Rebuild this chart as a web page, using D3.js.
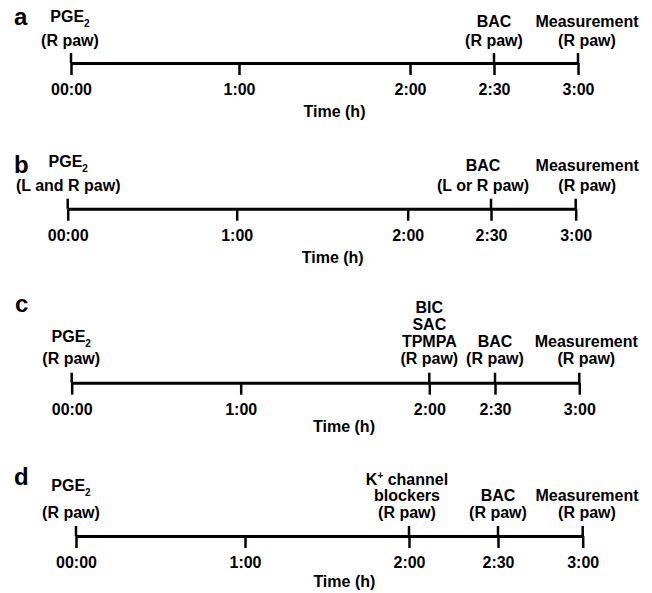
<!DOCTYPE html>
<html>
<head>
<meta charset="utf-8">
<script src="https://cdn.jsdelivr.net/npm/d3@7"></script>
<style>
  body { margin: 0; background: #fff; }
  text { font-family: "Liberation Sans", Arial, Helvetica, sans-serif; font-weight: bold; fill: #000; }
</style>
</head>
<body>
<div id="chart"></div>
<script>
var panelIds = ["a", "b", "c", "d"];
var tickTimes = [0, 1, 2, 2.5, 3];
var tickLabels = ["00:00", "1:00", "2:00", "2:30", "3:00"];
var axisTitle = "Time (h)";

// "_" marks a subscript, "^" a superscript
var eventsA = [
  { time: 0, lines: ["PGE_2", "(R paw)"] },
  { time: 2.5, lines: ["BAC", "(R paw)"] },
  { time: 3, lines: ["Measurement", "(R paw)"] }
];
var eventsB = [
  { time: 0, lines: ["PGE_2", "(L and R paw)"] },
  { time: 2.5, lines: ["BAC", "(L or R paw)"] },
  { time: 3, lines: ["Measurement", "(R paw)"] }
];
var eventsC = [
  { time: 0, lines: ["PGE_2", "(R paw)"] },
  { time: 2, lines: ["BIC", "SAC", "TPMPA", "(R paw)"] },
  { time: 2.5, lines: ["BAC", "(R paw)"] },
  { time: 3, lines: ["Measurement", "(R paw)"] }
];
var eventsD = [
  { time: 0, lines: ["PGE_2", "(R paw)"] },
  { time: 2, lines: ["K^+ channel", "blockers", "(R paw)"] },
  { time: 2.5, lines: ["BAC", "(R paw)"] },
  { time: 3, lines: ["Measurement", "(R paw)"] }
];
var panelEvents = { a: eventsA, b: eventsB, c: eventsC, d: eventsD };

// layout of each panel (pixels)
var layout = {
  a: { lineY: 63, range: [71, 239, 410, 494, 578], letterX: 14, letterY: 25, gap: 17, lh: 19.5, subGap: 4.5, titleY: 53.5, titleDx: 10, shift: { 0: -1, 3: 9 } },
  b: { lineY: 208.7, range: [67.7, 236.7, 407.7, 491, 575.7], letterX: 14, letterY: 172.7, gap: 18, lh: 19.5, subGap: 4, titleY: 54, titleDx: 11, shift: { 0: 0.5, 2.5: -8, 3: 11.5 } },
  c: { lineY: 382.7, range: [71.7, 240.7, 429.3, 495, 579.3], letterX: 15, letterY: 311.7, gap: 19, lh: 16.8, subGap: 5, titleY: 49.5, titleDx: 18.5, shift: { 0: -0.5, 3: 7 } },
  d: { lineY: 536, range: [76, 245, 409, 498, 582.7], letterX: 14, letterY: 485, gap: 18.5, lh: 16.5, subGap: 10, titleY: 50.7, titleDx: 15, shift: { 0: -5, 2: -2, 3: 4.3 } }
};

var width = 652, height = 593;

var svg = d3.select("#chart").append("svg")
    .attr("width", width)
    .attr("height", height);

function addLine(text, str) {
  var m = str.match(/^(.*?)([_^])(.)(.*)$/);
  if (!m) { text.append("tspan").text(str); return; }
  text.append("tspan").text(m[1]);
  var up = m[2] === "^";
  text.append("tspan")
      .attr("font-size", 10)
      .attr("dy", up ? -6 : 5)
      .text(m[3]);
  if (m[4]) text.append("tspan").attr("dy", up ? 6 : -5).text(m[4]);
}

panelIds.forEach(function(id) {
  var L = layout[id],
      events = panelEvents[id];

  var x = d3.scaleLinear().domain(tickTimes).range(L.range);

  var g = svg.append("g").attr("transform", "translate(0," + L.lineY + ")");

  g.append("text")
      .attr("x", L.letterX)
      .attr("y", L.letterY - L.lineY)
      .attr("font-size", 24)
      .text(id);

  var axis = d3.axisBottom(x)
      .tickValues(tickTimes)
      .tickFormat(function(d, i) { return tickLabels[i]; })
      .tickSizeInner(12)
      .tickSizeOuter(0)
      .tickPadding(9);

  var ax = g.append("g").call(axis)
      .attr("font-family", null)
      .attr("font-size", null);
  ax.select(".domain").attr("stroke", "#000").attr("stroke-width", 3);
  ax.selectAll(".tick line").attr("stroke", "#000").attr("stroke-width", 2.5);
  ax.selectAll(".tick text").attr("font-size", 16).attr("fill", "#000");

  // event ticks also reach above the line
  g.selectAll(".up")
      .data(events)
      .enter().append("line")
      .attr("class", "up")
      .attr("x1", function(d) { return x(d.time); })
      .attr("x2", function(d) { return x(d.time); })
      .attr("y1", -10)
      .attr("y2", 0)
      .attr("stroke", "#000")
      .attr("stroke-width", 2.5);

  events.forEach(function(ev) {
    var n = ev.lines.length,
        cx = x(ev.time) + (L.shift[ev.time] || 0);
    ev.lines.forEach(function(str, i) {
      var y = -L.gap - (n - 1 - i) * L.lh;
      if (ev.lines[0].indexOf("_") >= 0 && i === 0) y -= L.subGap;
      var t = g.append("text")
          .attr("x", cx)
          .attr("y", y)
          .attr("font-size", 16)
          .attr("text-anchor", "middle");
      addLine(t, str);
    });
  });

  g.append("text")
      .attr("x", (x(0) + x(3)) / 2 + L.titleDx)
      .attr("y", L.titleY)
      .attr("font-size", 16)
      .attr("text-anchor", "middle")
      .text(axisTitle);
});
</script>
</body>
</html>
